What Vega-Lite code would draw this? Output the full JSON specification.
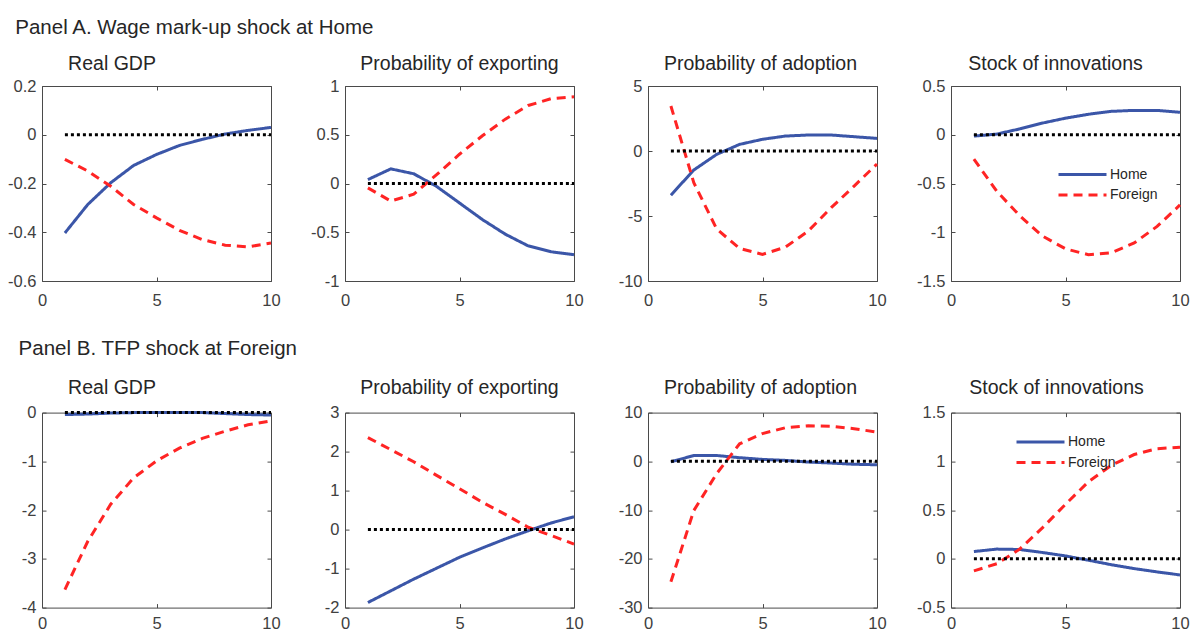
{
"$schema":"https://vega.github.io/schema/vega-lite/v6.json",
"background":"white",
"padding":{"left":7,"top":18,"right":0,"bottom":0},
"data":{"values":[
{"p":"A1","s":"Home","t":1,"v":-0.403},{"p":"A1","s":"Home","t":2,"v":-0.286},{"p":"A1","s":"Home","t":3,"v":-0.197},{"p":"A1","s":"Home","t":4,"v":-0.126},{"p":"A1","s":"Home","t":5,"v":-0.081},{"p":"A1","s":"Home","t":6,"v":-0.044},{"p":"A1","s":"Home","t":7,"v":-0.019},{"p":"A1","s":"Home","t":8,"v":0.003},{"p":"A1","s":"Home","t":9,"v":0.018},{"p":"A1","s":"Home","t":10,"v":0.03},
{"p":"A1","s":"Foreign","t":1,"v":-0.101},{"p":"A1","s":"Foreign","t":2,"v":-0.149},{"p":"A1","s":"Foreign","t":3,"v":-0.211},{"p":"A1","s":"Foreign","t":4,"v":-0.286},{"p":"A1","s":"Foreign","t":5,"v":-0.341},{"p":"A1","s":"Foreign","t":6,"v":-0.392},{"p":"A1","s":"Foreign","t":7,"v":-0.43},{"p":"A1","s":"Foreign","t":8,"v":-0.453},{"p":"A1","s":"Foreign","t":9,"v":-0.46},{"p":"A1","s":"Foreign","t":10,"v":-0.444},
{"p":"A1","s":"Zero","t":1,"v":0},{"p":"A1","s":"Zero","t":10,"v":0},
{"p":"A2","s":"Home","t":1,"v":0.04},{"p":"A2","s":"Home","t":2,"v":0.15},{"p":"A2","s":"Home","t":3,"v":0.1},{"p":"A2","s":"Home","t":4,"v":-0.03},{"p":"A2","s":"Home","t":5,"v":-0.2},{"p":"A2","s":"Home","t":6,"v":-0.37},{"p":"A2","s":"Home","t":7,"v":-0.52},{"p":"A2","s":"Home","t":8,"v":-0.64},{"p":"A2","s":"Home","t":9,"v":-0.7},{"p":"A2","s":"Home","t":10,"v":-0.73},
{"p":"A2","s":"Foreign","t":1,"v":-0.045},{"p":"A2","s":"Foreign","t":2,"v":-0.18},{"p":"A2","s":"Foreign","t":3,"v":-0.11},{"p":"A2","s":"Foreign","t":4,"v":0.09},{"p":"A2","s":"Foreign","t":5,"v":0.3},{"p":"A2","s":"Foreign","t":6,"v":0.49},{"p":"A2","s":"Foreign","t":7,"v":0.66},{"p":"A2","s":"Foreign","t":8,"v":0.8},{"p":"A2","s":"Foreign","t":9,"v":0.87},{"p":"A2","s":"Foreign","t":10,"v":0.89},
{"p":"A2","s":"Zero","t":1,"v":0},{"p":"A2","s":"Zero","t":10,"v":0},
{"p":"A3","s":"Home","t":1,"v":-3.4},{"p":"A3","s":"Home","t":2,"v":-1.46},{"p":"A3","s":"Home","t":3,"v":-0.26},{"p":"A3","s":"Home","t":4,"v":0.51},{"p":"A3","s":"Home","t":5,"v":0.9},{"p":"A3","s":"Home","t":6,"v":1.15},{"p":"A3","s":"Home","t":7,"v":1.23},{"p":"A3","s":"Home","t":8,"v":1.23},{"p":"A3","s":"Home","t":9,"v":1.1},{"p":"A3","s":"Home","t":10,"v":0.97},
{"p":"A3","s":"Foreign","t":1,"v":3.46},{"p":"A3","s":"Foreign","t":2,"v":-2.44},{"p":"A3","s":"Foreign","t":3,"v":-6.0},{"p":"A3","s":"Foreign","t":4,"v":-7.5},{"p":"A3","s":"Foreign","t":5,"v":-7.95},{"p":"A3","s":"Foreign","t":6,"v":-7.4},{"p":"A3","s":"Foreign","t":7,"v":-6.15},{"p":"A3","s":"Foreign","t":8,"v":-4.36},{"p":"A3","s":"Foreign","t":9,"v":-2.7},{"p":"A3","s":"Foreign","t":10,"v":-1.0},
{"p":"A3","s":"Zero","t":1,"v":0},{"p":"A3","s":"Zero","t":10,"v":0},
{"p":"A4","s":"Home","t":1,"v":-0.014},{"p":"A4","s":"Home","t":2,"v":0.007},{"p":"A4","s":"Home","t":3,"v":0.06},{"p":"A4","s":"Home","t":4,"v":0.12},{"p":"A4","s":"Home","t":5,"v":0.17},{"p":"A4","s":"Home","t":6,"v":0.21},{"p":"A4","s":"Home","t":7,"v":0.24},{"p":"A4","s":"Home","t":8,"v":0.25},{"p":"A4","s":"Home","t":9,"v":0.25},{"p":"A4","s":"Home","t":10,"v":0.23},
{"p":"A4","s":"Foreign","t":1,"v":-0.25},{"p":"A4","s":"Foreign","t":2,"v":-0.58},{"p":"A4","s":"Foreign","t":3,"v":-0.83},{"p":"A4","s":"Foreign","t":4,"v":-1.04},{"p":"A4","s":"Foreign","t":5,"v":-1.17},{"p":"A4","s":"Foreign","t":6,"v":-1.23},{"p":"A4","s":"Foreign","t":7,"v":-1.21},{"p":"A4","s":"Foreign","t":8,"v":-1.11},{"p":"A4","s":"Foreign","t":9,"v":-0.94},{"p":"A4","s":"Foreign","t":10,"v":-0.72},
{"p":"A4","s":"Zero","t":1,"v":0},{"p":"A4","s":"Zero","t":10,"v":0},
{"p":"B1","s":"Home","t":1,"v":-0.04},{"p":"B1","s":"Home","t":2,"v":-0.03},{"p":"B1","s":"Home","t":3,"v":-0.01},{"p":"B1","s":"Home","t":4,"v":0},{"p":"B1","s":"Home","t":5,"v":0},{"p":"B1","s":"Home","t":6,"v":0},{"p":"B1","s":"Home","t":7,"v":0},{"p":"B1","s":"Home","t":8,"v":-0.02},{"p":"B1","s":"Home","t":9,"v":-0.04},{"p":"B1","s":"Home","t":10,"v":-0.05},
{"p":"B1","s":"Foreign","t":1,"v":-3.63},{"p":"B1","s":"Foreign","t":2,"v":-2.64},{"p":"B1","s":"Foreign","t":3,"v":-1.88},{"p":"B1","s":"Foreign","t":4,"v":-1.34},{"p":"B1","s":"Foreign","t":5,"v":-0.99},{"p":"B1","s":"Foreign","t":6,"v":-0.73},{"p":"B1","s":"Foreign","t":7,"v":-0.53},{"p":"B1","s":"Foreign","t":8,"v":-0.38},{"p":"B1","s":"Foreign","t":9,"v":-0.25},{"p":"B1","s":"Foreign","t":10,"v":-0.17},
{"p":"B1","s":"Zero","t":1,"v":0},{"p":"B1","s":"Zero","t":10,"v":0},
{"p":"B2","s":"Home","t":1,"v":-1.87},{"p":"B2","s":"Home","t":2,"v":-1.57},{"p":"B2","s":"Home","t":3,"v":-1.27},{"p":"B2","s":"Home","t":4,"v":-0.99},{"p":"B2","s":"Home","t":5,"v":-0.71},{"p":"B2","s":"Home","t":6,"v":-0.47},{"p":"B2","s":"Home","t":7,"v":-0.24},{"p":"B2","s":"Home","t":8,"v":-0.03},{"p":"B2","s":"Home","t":9,"v":0.17},{"p":"B2","s":"Home","t":10,"v":0.33},
{"p":"B2","s":"Foreign","t":1,"v":2.36},{"p":"B2","s":"Foreign","t":2,"v":2.05},{"p":"B2","s":"Foreign","t":3,"v":1.74},{"p":"B2","s":"Foreign","t":4,"v":1.39},{"p":"B2","s":"Foreign","t":5,"v":1.05},{"p":"B2","s":"Foreign","t":6,"v":0.7},{"p":"B2","s":"Foreign","t":7,"v":0.39},{"p":"B2","s":"Foreign","t":8,"v":0.06},{"p":"B2","s":"Foreign","t":9,"v":-0.15},{"p":"B2","s":"Foreign","t":10,"v":-0.37},
{"p":"B2","s":"Zero","t":1,"v":0},{"p":"B2","s":"Zero","t":10,"v":0},
{"p":"B3","s":"Home","t":1,"v":-0.1},{"p":"B3","s":"Home","t":2,"v":1.2},{"p":"B3","s":"Home","t":3,"v":1.2},{"p":"B3","s":"Home","t":4,"v":0.75},{"p":"B3","s":"Home","t":5,"v":0.4},{"p":"B3","s":"Home","t":6,"v":0.2},{"p":"B3","s":"Home","t":7,"v":-0.15},{"p":"B3","s":"Home","t":8,"v":-0.35},{"p":"B3","s":"Home","t":9,"v":-0.6},{"p":"B3","s":"Home","t":10,"v":-0.7},
{"p":"B3","s":"Foreign","t":1,"v":-24.7},{"p":"B3","s":"Foreign","t":2,"v":-10.1},{"p":"B3","s":"Foreign","t":3,"v":-2.5},{"p":"B3","s":"Foreign","t":4,"v":3.6},{"p":"B3","s":"Foreign","t":5,"v":5.7},{"p":"B3","s":"Foreign","t":6,"v":6.9},{"p":"B3","s":"Foreign","t":7,"v":7.3},{"p":"B3","s":"Foreign","t":8,"v":7.2},{"p":"B3","s":"Foreign","t":9,"v":6.7},{"p":"B3","s":"Foreign","t":10,"v":6.0},
{"p":"B3","s":"Zero","t":1,"v":0},{"p":"B3","s":"Zero","t":10,"v":0},
{"p":"B4","s":"Home","t":1,"v":0.075},{"p":"B4","s":"Home","t":2,"v":0.1},{"p":"B4","s":"Home","t":3,"v":0.096},{"p":"B4","s":"Home","t":4,"v":0.065},{"p":"B4","s":"Home","t":5,"v":0.03},{"p":"B4","s":"Home","t":6,"v":-0.014},{"p":"B4","s":"Home","t":7,"v":-0.06},{"p":"B4","s":"Home","t":8,"v":-0.1},{"p":"B4","s":"Home","t":9,"v":-0.134},{"p":"B4","s":"Home","t":10,"v":-0.165},
{"p":"B4","s":"Foreign","t":1,"v":-0.124},{"p":"B4","s":"Foreign","t":2,"v":-0.05},{"p":"B4","s":"Foreign","t":3,"v":0.1},{"p":"B4","s":"Foreign","t":4,"v":0.32},{"p":"B4","s":"Foreign","t":5,"v":0.56},{"p":"B4","s":"Foreign","t":6,"v":0.79},{"p":"B4","s":"Foreign","t":7,"v":0.96},{"p":"B4","s":"Foreign","t":8,"v":1.07},{"p":"B4","s":"Foreign","t":9,"v":1.13},{"p":"B4","s":"Foreign","t":10,"v":1.145},
{"p":"B4","s":"Zero","t":1,"v":0},{"p":"B4","s":"Zero","t":10,"v":0}
]},
"spacing":29.6,
"resolve":{"scale":{"color":"independent","strokeDash":"independent"},"legend":{"color":"independent","strokeDash":"independent"}},
"vconcat":[
{"title":{"text":"Panel A. Wage mark-up shock at Home","anchor":"start","frame":"group","dx":-26.7,"fontSize":20.5,"offset":14.7},
 "spacing":74,"bounds":"flush",
 "resolve":{"scale":{"color":"independent","strokeDash":"independent"},"legend":{"color":"independent","strokeDash":"independent"}},
 "hconcat":[
 {"width":229,"height":195,"title":{"text":"Real GDP","dx":-44.5,"offset":3.5},
  "transform":[{"filter":"datum.p==='A1'"}],
  "layer":[
   {"transform":[{"filter":"datum.s!=='Zero'"}],"mark":{"type":"line","strokeWidth":3},
    "encoding":{"x":{"field":"t","type":"quantitative","scale":{"domain":[0,10],"nice":false},"axis":{"values":[0,5,10]}},
     "y":{"field":"v","type":"quantitative","scale":{"domain":[-0.6,0.2],"nice":false,"zero":false},"axis":{"values":[-0.6,-0.4,-0.2,0,0.2]}},
     "color":{"field":"s","type":"nominal","scale":{"domain":["Home","Foreign"],"range":["#3b56a8","#ff2424"]},"legend":null},
     "strokeDash":{"field":"s","type":"nominal","scale":{"domain":["Home","Foreign"],"range":[[1,0],[9,6]]},"legend":null}}},
   {"transform":[{"filter":"datum.s==='Zero'"}],"mark":{"type":"line","color":"#000000","strokeWidth":3,"strokeDash":[3,3]},
    "encoding":{"x":{"field":"t","type":"quantitative","axis":{"orient":"top","labels":false,"values":[0,5,10]}},
     "y":{"field":"v","type":"quantitative","axis":{"orient":"right","labels":false,"values":[-0.6,-0.4,-0.2,0,0.2]}}}}
  ],
  "resolve":{"axis":{"x":"independent","y":"independent"}}},
 {"width":229,"height":195,"title":{"text":"Probability of exporting","dx":0,"offset":3.5},
  "transform":[{"filter":"datum.p==='A2'"}],
  "layer":[
   {"transform":[{"filter":"datum.s!=='Zero'"}],"mark":{"type":"line","strokeWidth":3},
    "encoding":{"x":{"field":"t","type":"quantitative","scale":{"domain":[0,10],"nice":false},"axis":{"values":[0,5,10]}},
     "y":{"field":"v","type":"quantitative","scale":{"domain":[-1,1],"nice":false,"zero":false},"axis":{"values":[-1,-0.5,0,0.5,1]}},
     "color":{"field":"s","type":"nominal","scale":{"domain":["Home","Foreign"],"range":["#3b56a8","#ff2424"]},"legend":null},
     "strokeDash":{"field":"s","type":"nominal","scale":{"domain":["Home","Foreign"],"range":[[1,0],[9,6]]},"legend":null}}},
   {"transform":[{"filter":"datum.s==='Zero'"}],"mark":{"type":"line","color":"#000000","strokeWidth":3,"strokeDash":[3,3]},
    "encoding":{"x":{"field":"t","type":"quantitative","axis":{"orient":"top","labels":false,"values":[0,5,10]}},
     "y":{"field":"v","type":"quantitative","axis":{"orient":"right","labels":false,"values":[-1,-0.5,0,0.5,1]}}}}
  ],
  "resolve":{"axis":{"x":"independent","y":"independent"}}},
 {"width":229,"height":195,"title":{"text":"Probability of adoption","dx":-2,"offset":3.5},
  "transform":[{"filter":"datum.p==='A3'"}],
  "layer":[
   {"transform":[{"filter":"datum.s!=='Zero'"}],"mark":{"type":"line","strokeWidth":3},
    "encoding":{"x":{"field":"t","type":"quantitative","scale":{"domain":[0,10],"nice":false},"axis":{"values":[0,5,10]}},
     "y":{"field":"v","type":"quantitative","scale":{"domain":[-10,5],"nice":false,"zero":false},"axis":{"values":[-10,-5,0,5]}},
     "color":{"field":"s","type":"nominal","scale":{"domain":["Home","Foreign"],"range":["#3b56a8","#ff2424"]},"legend":null},
     "strokeDash":{"field":"s","type":"nominal","scale":{"domain":["Home","Foreign"],"range":[[1,0],[9,6]]},"legend":null}}},
   {"transform":[{"filter":"datum.s==='Zero'"}],"mark":{"type":"line","color":"#000000","strokeWidth":3,"strokeDash":[3,3]},
    "encoding":{"x":{"field":"t","type":"quantitative","axis":{"orient":"top","labels":false,"values":[0,5,10]}},
     "y":{"field":"v","type":"quantitative","axis":{"orient":"right","labels":false,"values":[-10,-5,0,5]}}}}
  ],
  "resolve":{"axis":{"x":"independent","y":"independent"}}},
 {"width":229,"height":195,"title":{"text":"Stock of innovations","dx":-10,"offset":3.5},
  "transform":[{"filter":"datum.p==='A4'"}],
  "layer":[
   {"transform":[{"filter":"datum.s!=='Zero'"}],"mark":{"type":"line","strokeWidth":3},
    "encoding":{"x":{"field":"t","type":"quantitative","scale":{"domain":[0,10],"nice":false},"axis":{"values":[0,5,10]}},
     "y":{"field":"v","type":"quantitative","scale":{"domain":[-1.5,0.5],"nice":false,"zero":false},"axis":{"values":[-1.5,-1,-0.5,0,0.5]}},
     "color":{"field":"s","type":"nominal","scale":{"domain":["Home","Foreign"],"range":["#3b56a8","#ff2424"]},
       "legend":{"orient":"none","legendX":124,"legendY":81,"title":null,"symbolType":"M-4,0H4","symbolSize":144,"symbolStrokeWidth":3,"symbolFillColor":"transparent","labelOffset":20,"labelFontSize":14,"labelFont":"Liberation Sans","labelColor":"#262626","rowPadding":5.5}},
     "strokeDash":{"field":"s","type":"nominal","scale":{"domain":["Home","Foreign"],"range":[[1,0],[9,6]]},
       "legend":{"orient":"none","legendX":124,"legendY":81,"title":null,"symbolType":"M-4,0H4","symbolSize":144,"symbolStrokeWidth":3,"symbolFillColor":"transparent","labelOffset":20,"labelFontSize":14,"labelFont":"Liberation Sans","labelColor":"#262626","rowPadding":5.5}}}},
   {"transform":[{"filter":"datum.s==='Zero'"}],"mark":{"type":"line","color":"#000000","strokeWidth":3,"strokeDash":[3,3]},
    "encoding":{"x":{"field":"t","type":"quantitative","axis":{"orient":"top","labels":false,"values":[0,5,10]}},
     "y":{"field":"v","type":"quantitative","axis":{"orient":"right","labels":false,"values":[-1.5,-1,-0.5,0,0.5]}}}}
  ],
  "resolve":{"axis":{"x":"independent","y":"independent"}}}
 ]},
{"title":{"text":"Panel B. TFP shock at Foreign","anchor":"start","frame":"group","dx":-23.4,"fontSize":20.5,"offset":17.7},
 "spacing":74,"bounds":"flush",
 "resolve":{"scale":{"color":"independent","strokeDash":"independent"},"legend":{"color":"independent","strokeDash":"independent"}},
 "hconcat":[
 {"width":229,"height":195,"title":{"text":"Real GDP","dx":-44.5,"offset":6.3},
  "transform":[{"filter":"datum.p==='B1'"}],
  "layer":[
   {"transform":[{"filter":"datum.s!=='Zero'"}],"mark":{"type":"line","strokeWidth":3},
    "encoding":{"x":{"field":"t","type":"quantitative","scale":{"domain":[0,10],"nice":false},"axis":{"values":[0,5,10],"labelPadding":12}},
     "y":{"field":"v","type":"quantitative","scale":{"domain":[-4,0],"nice":false,"zero":false},"axis":{"values":[-4,-3,-2,-1,0]}},
     "color":{"field":"s","type":"nominal","scale":{"domain":["Home","Foreign"],"range":["#3b56a8","#ff2424"]},"legend":null},
     "strokeDash":{"field":"s","type":"nominal","scale":{"domain":["Home","Foreign"],"range":[[1,0],[9,6]]},"legend":null}}},
   {"transform":[{"filter":"datum.s==='Zero'"}],"mark":{"type":"line","color":"#000000","strokeWidth":3,"strokeDash":[3,3]},
    "encoding":{"x":{"field":"t","type":"quantitative","axis":{"orient":"top","labels":false,"values":[0,5,10]}},
     "y":{"field":"v","type":"quantitative","axis":{"orient":"right","labels":false,"values":[-4,-3,-2,-1,0]}}}}
  ],
  "resolve":{"axis":{"x":"independent","y":"independent"}}},
 {"width":229,"height":195,"title":{"text":"Probability of exporting","dx":0,"offset":6.3},
  "transform":[{"filter":"datum.p==='B2'"}],
  "layer":[
   {"transform":[{"filter":"datum.s!=='Zero'"}],"mark":{"type":"line","strokeWidth":3},
    "encoding":{"x":{"field":"t","type":"quantitative","scale":{"domain":[0,10],"nice":false},"axis":{"values":[0,5,10],"labelPadding":12}},
     "y":{"field":"v","type":"quantitative","scale":{"domain":[-2,3],"nice":false,"zero":false},"axis":{"values":[-2,-1,0,1,2,3]}},
     "color":{"field":"s","type":"nominal","scale":{"domain":["Home","Foreign"],"range":["#3b56a8","#ff2424"]},"legend":null},
     "strokeDash":{"field":"s","type":"nominal","scale":{"domain":["Home","Foreign"],"range":[[1,0],[9,6]]},"legend":null}}},
   {"transform":[{"filter":"datum.s==='Zero'"}],"mark":{"type":"line","color":"#000000","strokeWidth":3,"strokeDash":[3,3]},
    "encoding":{"x":{"field":"t","type":"quantitative","axis":{"orient":"top","labels":false,"values":[0,5,10]}},
     "y":{"field":"v","type":"quantitative","axis":{"orient":"right","labels":false,"values":[-2,-1,0,1,2,3]}}}}
  ],
  "resolve":{"axis":{"x":"independent","y":"independent"}}},
 {"width":229,"height":195,"title":{"text":"Probability of adoption","dx":-2,"offset":6.3},
  "transform":[{"filter":"datum.p==='B3'"}],
  "layer":[
   {"transform":[{"filter":"datum.s!=='Zero'"}],"mark":{"type":"line","strokeWidth":3},
    "encoding":{"x":{"field":"t","type":"quantitative","scale":{"domain":[0,10],"nice":false},"axis":{"values":[0,5,10],"labelPadding":12}},
     "y":{"field":"v","type":"quantitative","scale":{"domain":[-30,10],"nice":false,"zero":false},"axis":{"values":[-30,-20,-10,0,10]}},
     "color":{"field":"s","type":"nominal","scale":{"domain":["Home","Foreign"],"range":["#3b56a8","#ff2424"]},"legend":null},
     "strokeDash":{"field":"s","type":"nominal","scale":{"domain":["Home","Foreign"],"range":[[1,0],[9,6]]},"legend":null}}},
   {"transform":[{"filter":"datum.s==='Zero'"}],"mark":{"type":"line","color":"#000000","strokeWidth":3,"strokeDash":[3,3]},
    "encoding":{"x":{"field":"t","type":"quantitative","axis":{"orient":"top","labels":false,"values":[0,5,10]}},
     "y":{"field":"v","type":"quantitative","axis":{"orient":"right","labels":false,"values":[-30,-20,-10,0,10]}}}}
  ],
  "resolve":{"axis":{"x":"independent","y":"independent"}}},
 {"width":229,"height":195,"title":{"text":"Stock of innovations","dx":-9,"offset":6.3},
  "transform":[{"filter":"datum.p==='B4'"}],
  "layer":[
   {"transform":[{"filter":"datum.s!=='Zero'"}],"mark":{"type":"line","strokeWidth":3},
    "encoding":{"x":{"field":"t","type":"quantitative","scale":{"domain":[0,10],"nice":false},"axis":{"values":[0,5,10],"labelPadding":12}},
     "y":{"field":"v","type":"quantitative","scale":{"domain":[-0.5,1.5],"nice":false,"zero":false},"axis":{"values":[-0.5,0,0.5,1,1.5]}},
     "color":{"field":"s","type":"nominal","scale":{"domain":["Home","Foreign"],"range":["#3b56a8","#ff2424"]},
       "legend":{"orient":"none","legendX":82,"legendY":22,"title":null,"symbolType":"M-4,0H4","symbolSize":144,"symbolStrokeWidth":3,"symbolFillColor":"transparent","labelOffset":20,"labelFontSize":14,"labelFont":"Liberation Sans","labelColor":"#262626","rowPadding":5.5}},
     "strokeDash":{"field":"s","type":"nominal","scale":{"domain":["Home","Foreign"],"range":[[1,0],[9,6]]},
       "legend":{"orient":"none","legendX":82,"legendY":22,"title":null,"symbolType":"M-4,0H4","symbolSize":144,"symbolStrokeWidth":3,"symbolFillColor":"transparent","labelOffset":20,"labelFontSize":14,"labelFont":"Liberation Sans","labelColor":"#262626","rowPadding":5.5}}}},
   {"transform":[{"filter":"datum.s==='Zero'"}],"mark":{"type":"line","color":"#000000","strokeWidth":3,"strokeDash":[3,3]},
    "encoding":{"x":{"field":"t","type":"quantitative","axis":{"orient":"top","labels":false,"values":[0,5,10]}},
     "y":{"field":"v","type":"quantitative","axis":{"orient":"right","labels":false,"values":[-0.5,0,0.5,1,1.5]}}}}
  ],
  "resolve":{"axis":{"x":"independent","y":"independent"}}}
 ]}
],
"config":{
 "locale":{"number":{"decimal":".","thousands":",","grouping":[3],"currency":["$",""],"minus":"-"}},
 "view":{"stroke":"#4a4a4a","strokeWidth":1},
 "axis":{"domain":false,"grid":false,"ticks":true,"tickSize":-4,"tickColor":"#4a4a4a","tickWidth":1,"labelFont":"Liberation Sans","labelFontSize":16.5,"labelColor":"#404040","title":null,"format":"~f","labelFlush":false,"labelOverlap":false},
 "axisX":{"labelPadding":15},
 "axisY":{"labelPadding":10},
 "title":{"font":"Liberation Sans","fontSize":19.5,"fontWeight":"normal","color":"#262626","baseline":"alphabetic","offset":10},
 "legend":{"padding":0}
}
}
